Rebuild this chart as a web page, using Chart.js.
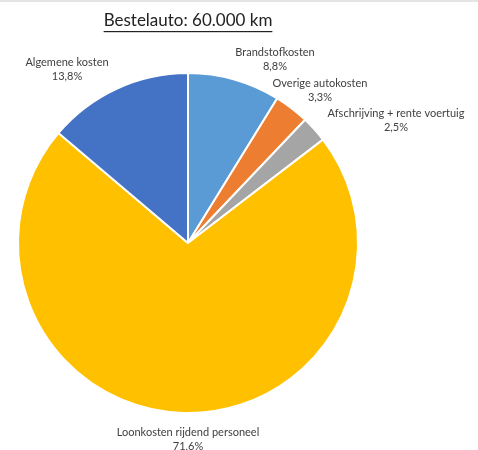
<!DOCTYPE html>
<html>
<head>
<meta charset="utf-8">
<script src="https://cdn.jsdelivr.net/npm/chart.js@4"></script>
<style>
  html, body { margin: 0; padding: 0; background: #fff; }
  #wrap { position: relative; width: 478px; height: 450px; border-top: 2px solid #e4e4e4; box-sizing: border-box; }
  canvas { display: block; }
</style>
</head>
<body>
<div id="wrap"><canvas id="pie" width="478" height="448"></canvas></div>
<script>
const categories = [
  "Brandstofkosten",
  "Overige autokosten",
  "Afschrijving + rente voertuig",
  "Loonkosten rijdend personeel",
  "Algemene kosten"
];
const shares = [8.8, 3.3, 2.5, 71.6, 13.8];
const sliceColors = ["#5b9bd5", "#ed7d31", "#a5a5a5", "#ffc000", "#4472c4"];

// label anchor points (centre of the two-line label) in canvas px
const labelSpots = [[275, 57], [320, 88], [396, 118], [188, 437], [67, 67]];

const fontFamily = "Lato, 'Open Sans', sans-serif";

const fmtPct = v => v.toFixed(1).replace(".", ",") + "%";

const pieLabels = {
  id: "pieLabels",
  afterDraw(chart) {
    const ctx = chart.ctx;
    ctx.save();
    ctx.fillStyle = "#404040";
    ctx.textAlign = "center";
    ctx.textBaseline = "middle";
    ctx.font = "11px " + fontFamily;
    categories.forEach((name, i) => {
      const [x, y] = labelSpots[i];
      ctx.fillText(name, x, y - 7);
      ctx.fillText(fmtPct(shares[i]), x, y + 7);
    });

    // underlined heading
    const title = "Bestelauto: 60.000 km";
    ctx.font = "17px " + fontFamily;
    ctx.fillStyle = "#222";
    ctx.fillText(title, 188, 19);
    const w = ctx.measureText(title).width;
    ctx.fillRect(188 - w / 2, 29, w, 1.2);
    ctx.restore();
  }
};

new Chart(document.getElementById("pie"), {
  type: "pie",
  data: {
    labels: categories,
    datasets: [{
      data: shares,
      backgroundColor: sliceColors,
      borderColor: "#fff",
      borderWidth: 2
    }]
  },
  options: {
    responsive: false,
    animation: false,
    layout: { padding: { left: 17, right: 119, top: 70, bottom: 36 } },
    plugins: {
      legend: { display: false },
      tooltip: { enabled: false },
      title: { display: false }
    }
  },
  plugins: [pieLabels]
});
</script>
</body>
</html>
